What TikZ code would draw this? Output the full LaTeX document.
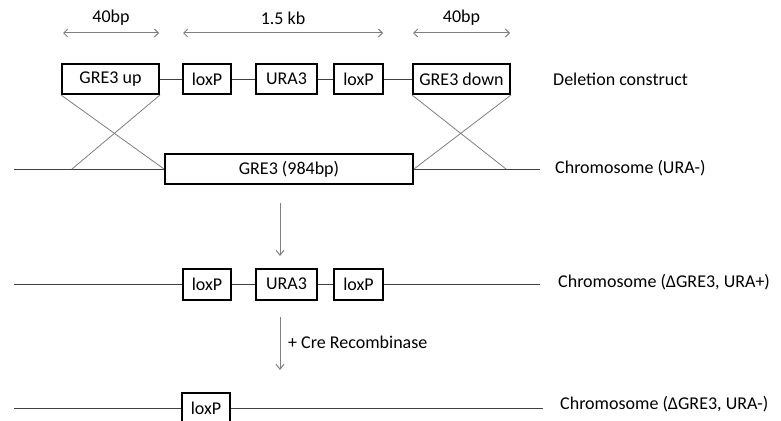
\documentclass[tikz,border=0pt]{standalone}
\usepackage{fontspec}
\setmainfont{Carlito}
\usetikzlibrary{arrows.meta}
\definecolor{linegray}{HTML}{404040}
\definecolor{softgray}{HTML}{7F7F7F}
\tikzset{
  gene/.style={draw=black, line width=2pt, fill=white, inner sep=0pt,
    minimum height=30pt, font=\fontsize{18}{20}\selectfont},
  dna/.style={draw=linegray, line width=1pt},
  xover/.style={draw=softgray, line width=0.8pt},
  span/.style={draw=softgray, line width=1pt,
    {Straight Barb[length=4pt,width=8pt]}-{Straight Barb[length=4pt,width=8pt]}},
  step arrow/.style={draw=softgray, line width=1pt,
    -{Straight Barb[length=5pt,width=8pt]}},
  lbl/.style={font=\fontsize{18}{20}\selectfont, inner sep=0pt},
}
\begin{document}
\begin{tikzpicture}[x=1pt,y=-1pt]
\useasboundingbox[fill=white] (0,0) rectangle (781,420);
\clip (0,0) rectangle (781,420);

% size markers above the construct
\coordinate (a1) at (63,33);  \coordinate (a2) at (159,33);
\coordinate (b1) at (183,33); \coordinate (b2) at (383,33);
\coordinate (c1) at (413,33); \coordinate (c2) at (510,33);
\draw[span] (a1) -- (a2);
\draw[span] (b1) -- (b2);
\draw[span] (c1) -- (c2);
\node[lbl] (t40a) at (111,18) {40bp};
\node[lbl] (t15)  at (283,18) {1.5 kb};
\node[lbl] (t40b) at (461.5,18) {40bp};

% deletion construct
\node[gene, minimum width=97pt] (up)   at (110.5,79) {GRE3 up};
\node[gene, minimum width=48pt] (lx1)  at (207,79)   {loxP};
\node[gene, minimum width=61pt] (ura1) at (286.5,79) {URA3};
\node[gene, minimum width=49pt] (lx2)  at (358.5,79) {loxP};
\node[gene, minimum width=97pt] (down) at (461.5,79) {GRE3 down};
\draw[dna] (up) -- (lx1);
\draw[dna] (lx1) -- (ura1);
\draw[dna] (ura1) -- (lx2);
\draw[dna] (lx2) -- (down);
\node[lbl, anchor=west] (lab1) at (553,79) {Deletion construct};

% chromosome with GRE3
\node[gene, minimum width=248pt] (gre) at (289,169) {GRE3 (984bp)};
\coordinate (ch1l) at (14,169);
\coordinate (ch1r) at (540,169);
\coordinate (xl) at (72,169);
\coordinate (xr) at (506,169);
\draw[dna] (ch1l) -- (gre.west);
\draw[dna] (gre.east) -- (ch1r);
\draw[xover] (up.south west) -- (gre.west);
\draw[xover] (up.south east) -- (xl);
\draw[xover] (down.south west) -- (xr);
\draw[xover] (down.south east) -- (gre.east);
\node[lbl, anchor=west] (lab2) at (555,168) {Chromosome (URA-)};

% first step
\coordinate (s1a) at (280,203);
\coordinate (s1b) at (280,256);
\draw[step arrow] (s1a) -- (s1b);

% chromosome after integration
\node[gene, minimum width=48pt, minimum height=31pt] (lx3)  at (207,284)   {loxP};
\node[gene, minimum width=61pt, minimum height=31pt] (ura2) at (286.5,284) {URA3};
\node[gene, minimum width=49pt, minimum height=31pt] (lx4)  at (358.5,284) {loxP};
\coordinate (ch2l) at (14,284);
\coordinate (ch2r) at (540,284);
\draw[dna] (ch2l) -- (lx3);
\draw[dna] (lx3) -- (ura2);
\draw[dna] (ura2) -- (lx4);
\draw[dna] (lx4) -- (ch2r);
\node[lbl, anchor=west] (lab3) at (558,282) {Chromosome (ΔGRE3, URA+)};

% second step
\coordinate (s2a) at (280,317);
\coordinate (s2b) at (280,370);
\draw[step arrow] (s2a) -- (s2b);
\node[lbl, anchor=west] (cre) at (288,342) {+ Cre Recombinase};

% chromosome after excision
\node[gene, minimum width=48pt, minimum height=31pt] (lx5) at (206,408) {loxP};
\coordinate (ch3l) at (14,408);
\coordinate (ch3r) at (543,408);
\draw[dna] (ch3l) -- (lx5);
\draw[dna] (lx5) -- (ch3r);
\node[lbl, anchor=west] (lab4) at (560,404) {Chromosome (ΔGRE3, URA-)};
\end{tikzpicture}
\end{document}
